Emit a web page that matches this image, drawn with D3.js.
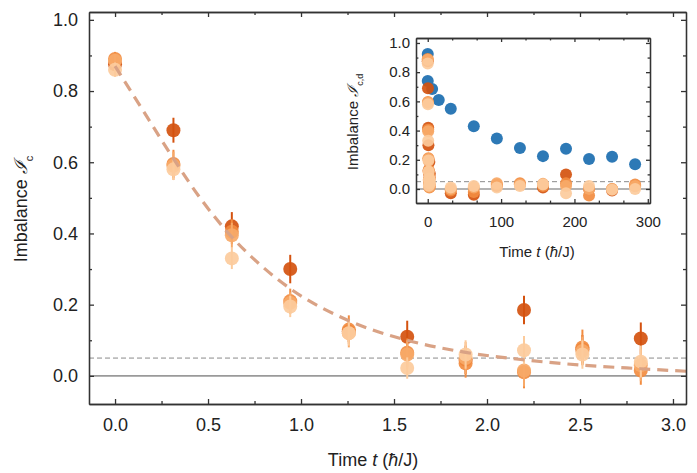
<!DOCTYPE html>
<html>
<head>
<meta charset="utf-8">
<title>Imbalance decay</title>
<style>
	body {
		margin: 0;
		background: #fff;
		font-family: "Liberation Sans", Arial, sans-serif;
	}
	.axis path, .axis line {
		stroke: #333;
		stroke-width: 1.3;
	}
	.axis text {
		fill: #222;
		font-family: "Liberation Sans", Arial, sans-serif;
	}
</style>
<script src="https://d3js.org/d3.v7.min.js"></script>
</head>
<body>
<script>
// main panel, time in hbar/J
var times = [0, 0.314, 0.628, 0.942, 1.257, 1.571, 1.885, 2.199, 2.513, 2.827];
var imbA = [0.875, 0.69, 0.42, 0.30, 0.125, 0.11, 0.045, 0.185, 0.075, 0.105];
var imbB = [0.89, 0.595, 0.405, 0.21, 0.13, 0.065, 0.035, 0.01, 0.08, 0.015];
var imbC = [0.885, 0.59, 0.395, 0.205, 0.12, 0.06, 0.05, 0.015, 0.07, 0.03];
var imbD = [0.86, 0.58, 0.33, 0.195, 0.12, 0.022, 0.06, 0.072, 0.06, 0.04];
var errA = [0.02, 0.035, 0.04, 0.04, 0.03, 0.045, 0.04, 0.04, 0.04, 0.045];
var errB = [0.02, 0.04, 0.035, 0.035, 0.04, 0.04, 0.04, 0.045, 0.05, 0.04];
var errC = [0.02, 0.04, 0.035, 0.03, 0.04, 0.04, 0.045, 0.045, 0.04, 0.045];
var errD = [0.02, 0.03, 0.03, 0.03, 0.035, 0.03, 0.04, 0.04, 0.04, 0.045];
var seriesColors = ["#d4520f", "#f28c40", "#f7a968", "#fccb9c"];

// fitted curve
var fitT = [0, 0.157, 0.314, 0.471, 0.628, 0.785, 0.942, 1.257, 1.571, 1.885, 2.2, 2.513, 2.827, 3.07];
var fitY = [0.87, 0.74, 0.61, 0.49, 0.39, 0.31, 0.245, 0.155, 0.10, 0.066, 0.045, 0.03, 0.02, 0.013];

// inset: long times
var longTimes = [31.4, 62.8, 94.2, 125.7, 157.1, 188.5, 219.9, 251.3, 282.7];
var longA = [-0.03, -0.04, 0.02, 0.03, 0.01, 0.10, 0.0, -0.01, 0.02];
var longB = [-0.01, -0.02, 0.03, 0.04, 0.02, 0.04, -0.045, 0.0, 0.03];
var longC = [0.0, 0.01, 0.04, 0.03, 0.035, 0.02, 0.0, 0.0, 0.02];
var longD = [0.01, 0.02, 0.01, 0.02, 0.03, -0.03, 0.02, -0.005, 0.0];
var blueT = [0, 0, 6, 15, 31.4, 62.8, 94.2, 125.7, 157.1, 188.5, 219.9, 251.3, 282.7];
var blueY = [0.925, 0.74, 0.685, 0.61, 0.55, 0.43, 0.345, 0.28, 0.225, 0.275, 0.205, 0.22, 0.17];
var blueColor = "#2d79b6";

var mainXTicks = [0, 0.5, 1.0, 1.5, 2.0, 2.5, 3.0];
var mainYTicks = [0, 0.2, 0.4, 0.6, 0.8, 1.0];
var insetXTicks = [0, 100, 200, 300];
var insetYTicks = [0, 0.2, 0.4, 0.6, 0.8, 1.0];
var threshold = 0.05;

var svg = d3.select("body").append("svg")
	.attr("width", 697)
	.attr("height", 473);

var x = d3.scaleLinear().domain([-0.14, 3.07]).range([89, 686]),
	y = d3.scaleLinear().domain([-0.079, 1.022]).range([404, 12]);

var xi = d3.scaleLinear().domain([-16, 303]).range([416, 650]),
	yi = d3.scaleLinear().domain([-0.096, 1.034]).range([203, 38]);

var fmt = d3.format(".1f");

function boxAxes(g, sx, sy, xt, yt, xMinor, yMinor, size, pad) {
	var x0 = sx.range()[0], x1 = sx.range()[1], y0 = sy.range()[0], y1 = sy.range()[1];
	// minor ticks first
	g.append("g").attr("class", "axis").attr("transform", "translate(0," + y0 + ")")
		.call(d3.axisBottom(sx).tickValues(xMinor).tickSizeInner(-size * 0.6).tickSizeOuter(0).tickFormat(""));
	g.append("g").attr("class", "axis").attr("transform", "translate(0," + y1 + ")")
		.call(d3.axisTop(sx).tickValues(xMinor).tickSizeInner(-size * 0.6).tickSizeOuter(0).tickFormat(""));
	g.append("g").attr("class", "axis").attr("transform", "translate(" + x0 + ",0)")
		.call(d3.axisLeft(sy).tickValues(yMinor).tickSizeInner(-size * 0.6).tickSizeOuter(0).tickFormat(""));
	g.append("g").attr("class", "axis").attr("transform", "translate(" + x1 + ",0)")
		.call(d3.axisRight(sy).tickValues(yMinor).tickSizeInner(-size * 0.6).tickSizeOuter(0).tickFormat(""));

	var bx = g.append("g").attr("class", "axis").attr("transform", "translate(0," + y0 + ")")
		.call(d3.axisBottom(sx).tickValues(xt).tickSizeInner(-size).tickSizeOuter(0).tickPadding(pad[0]).tickFormat(pad[2]));
	g.append("g").attr("class", "axis").attr("transform", "translate(0," + y1 + ")")
		.call(d3.axisTop(sx).tickValues(xt).tickSizeInner(-size).tickSizeOuter(0).tickFormat(""));
	var ly = g.append("g").attr("class", "axis").attr("transform", "translate(" + x0 + ",0)")
		.call(d3.axisLeft(sy).tickValues(yt).tickSizeInner(-size).tickSizeOuter(0).tickPadding(pad[1]).tickFormat(fmt));
	g.append("g").attr("class", "axis").attr("transform", "translate(" + x1 + ",0)")
		.call(d3.axisRight(sy).tickValues(yt).tickSizeInner(-size).tickSizeOuter(0).tickFormat(""));
	return [bx, ly];
}

function refLines(g, sx, sy) {
	g.append("line")
		.attr("x1", sx.range()[0]).attr("x2", sx.range()[1])
		.attr("y1", sy(0)).attr("y2", sy(0))
		.attr("stroke", "#9a9a9a").attr("stroke-width", 1.6);
	g.append("line")
		.attr("x1", sx.range()[0]).attr("x2", sx.range()[1])
		.attr("y1", sy(threshold)).attr("y2", sy(threshold))
		.attr("stroke", "#8a8a8a").attr("stroke-width", 1)
		.attr("stroke-dasharray", "5,3");
}

// ---------- main panel ----------
var gMain = svg.append("g");
refLines(gMain, x, y);

var mainSeries = [imbA, imbB, imbC, imbD].map(function(vals, i) {
	var errs = [errA, errB, errC, errD][i];
	return times.map(function(t, j) { return {t: t, v: vals[j], e: errs[j], c: seriesColors[i]}; });
});

mainSeries.forEach(function(pts) {
	var s = gMain.append("g");
	s.selectAll("line").data(pts).enter().append("line")
		.attr("x1", function(d) { return x(d.t); })
		.attr("x2", function(d) { return x(d.t); })
		.attr("y1", function(d) { return y(d.v - d.e); })
		.attr("y2", function(d) { return y(d.v + d.e); })
		.attr("stroke", function(d) { return d.c; })
		.attr("stroke-width", 2);
	s.selectAll("circle").data(pts).enter().append("circle")
		.attr("cx", function(d) { return x(d.t); })
		.attr("cy", function(d) { return y(d.v); })
		.attr("r", 7)
		.attr("fill", function(d) { return d.c; })
		.attr("fill-opacity", 0.92);
});

var fitLine = d3.line()
	.x(function(d, i) { return x(fitT[i]); })
	.y(function(d) { return y(d); })
	.curve(d3.curveMonotoneX);

gMain.append("path")
	.attr("d", fitLine(fitY))
	.attr("fill", "none")
	.attr("stroke", "#d9a285")
	.attr("stroke-width", 3.2)
	.attr("stroke-dasharray", "11,7");

boxAxes(gMain, x, y, mainXTicks, mainYTicks,
	[0.25, 0.75, 1.25, 1.75, 2.25, 2.75],
	[0.1, 0.3, 0.5, 0.7, 0.9],
	5, [14, 11, fmt]);
gMain.selectAll(".axis text").style("font-size", "18px");

gMain.append("text")
	.attr("transform", "translate(27,209) rotate(-90)")
	.attr("text-anchor", "middle")
	.style("font-size", "18px")
	.attr("fill", "#222")
	.call(function(t) {
		t.append("tspan").text("Imbalance ");
		t.append("tspan").style("font-family", "DejaVu Serif").style("font-style", "italic").text("\u2110");
		t.append("tspan").attr("baseline-shift", "sub").style("font-size", "11px").text("c");
	});

gMain.append("text")
	.attr("x", 373).attr("y", 466)
	.attr("text-anchor", "middle")
	.style("font-size", "18px")
	.attr("fill", "#222")
	.call(function(t) {
		t.append("tspan").text("Time ");
		t.append("tspan").style("font-style", "italic").text("t");
		t.append("tspan").text(" (");
		t.append("tspan").style("font-style", "italic").text("\u0127");
		t.append("tspan").text("/J)");
	});

// ---------- inset ----------
var gIn = svg.append("g");
gIn.append("rect")
	.attr("x", xi.range()[0]).attr("y", yi.range()[1])
	.attr("width", xi.range()[1] - xi.range()[0])
	.attr("height", yi.range()[0] - yi.range()[1])
	.attr("fill", "#fff");
refLines(gIn, xi, yi);

var insetSeries = [[imbA, longA], [imbB, longB], [imbC, longC], [imbD, longD]].map(function(p, i) {
	var pts = times.map(function(t, j) { return {t: t, v: p[0][j]}; });
	return pts.concat(longTimes.map(function(t, j) { return {t: t, v: p[1][j]}; }))
		.map(function(d) { d.c = seriesColors[i]; return d; });
});

gIn.selectAll(".blue").data(blueT).enter().append("circle")
	.attr("class", "blue")
	.attr("cx", function(d) { return xi(d); })
	.attr("cy", function(d, i) { return yi(blueY[i]); })
	.attr("r", 6)
	.attr("fill", blueColor);

insetSeries.forEach(function(pts) {
	gIn.append("g").selectAll("circle").data(pts).enter().append("circle")
		.attr("cx", function(d) { return xi(d.t); })
		.attr("cy", function(d) { return yi(d.v); })
		.attr("r", 6)
		.attr("fill", function(d) { return d.c; })
		.attr("fill-opacity", 0.92);
});

boxAxes(gIn, xi, yi, insetXTicks, insetYTicks,
	[33.3, 66.7, 133.3, 166.7, 233.3, 266.7],
	[0.1, 0.3, 0.5, 0.7, 0.9],
	4, [13, 6, d3.format("d")]);
gIn.selectAll(".axis text").style("font-size", "15px");

gIn.append("text")
	.attr("transform", "translate(358,122) rotate(-90)")
	.attr("text-anchor", "middle")
	.style("font-size", "15px")
	.attr("fill", "#222")
	.call(function(t) {
		t.append("tspan").text("Imbalance ");
		t.append("tspan").style("font-family", "DejaVu Serif").style("font-style", "italic").text("\u2110");
		t.append("tspan").attr("baseline-shift", "sub").style("font-size", "9px").text("c,d");
	});

gIn.append("text")
	.attr("x", 537).attr("y", 257)
	.attr("text-anchor", "middle")
	.style("font-size", "15px")
	.attr("fill", "#222")
	.call(function(t) {
		t.append("tspan").text("Time ");
		t.append("tspan").style("font-style", "italic").text("t");
		t.append("tspan").text(" (");
		t.append("tspan").style("font-style", "italic").text("\u0127");
		t.append("tspan").text("/J)");
	});
</script>
</body>
</html>
